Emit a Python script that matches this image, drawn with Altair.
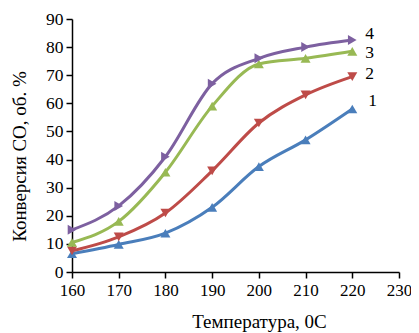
import altair as alt
import pandas as pd

temps = [160, 170, 180, 190, 200, 210, 220]
s1 = [6.5, 9.8, 13.8, 23.0, 37.5, 47.0, 58.0]
s2 = [7.5, 12.5, 21.0, 36.0, 53.0, 63.0, 69.5]
s3 = [10.5, 18.0, 35.5, 59.0, 74.0, 76.0, 78.5]
s4 = [15.0, 23.5, 41.0, 67.0, 76.0, 80.0, 82.5]
names = ["1", "2", "3", "4"]
colors = ["#4A7EBB", "#BE4B48", "#98B954", "#7D60A0"]
shapes = ["triangle-up", "triangle-down", "triangle-up", "triangle-right"]
label_dx = [16, 13, 13, 13]
label_dy = [-8, -3, 2, -6]
series = [s1, s2, s3, s4]

font = "Liberation Serif"
xscale = alt.Scale(domain=[160, 230], nice=False)
yscale = alt.Scale(domain=[0, 90], nice=False)

layers = []
for name, vals, col, shp, ldx, ldy in zip(names, series, colors, shapes, label_dx, label_dy):
    df = pd.DataFrame({"t": temps, "v": vals, "s": name})
    base = alt.Chart(df).encode(
        x=alt.X("t:Q", scale=xscale),
        y=alt.Y("v:Q", scale=yscale),
    )
    layers.append(base.mark_line(color=col, strokeWidth=3, interpolate="monotone"))
    layers.append(base.mark_point(shape=shp, filled=True, color=col, size=100, opacity=1))
    last = df.tail(1)
    layers.append(
        alt.Chart(last).mark_text(
            align="left", baseline="middle", dx=ldx, dy=ldy, font=font, fontSize=17.5, color="#000000"
        ).encode(x=alt.X("t:Q", scale=xscale), y=alt.Y("v:Q", scale=yscale), text="s:N")
    )

chart = alt.layer(*layers).encode(
    x=alt.X("t:Q", scale=xscale, axis=alt.Axis(
        title="Температура, 0С", values=[160, 170, 180, 190, 200, 210, 220, 230],
        grid=False, domainColor="#000000", tickColor="#000000", tickSize=6,
        labelFont=font, labelFontSize=17, labelColor="#000000", labelPadding=4,
        labelFlush=False, labelOverlap=False,
        titleFont=font, titleFontSize=19, titleFontWeight="normal", titleColor="#000000",
        titleX=187, titleY=55, titleBaseline="alphabetic",
    )),
    y=alt.Y("v:Q", scale=yscale, axis=alt.Axis(
        title="Конверсия СО, об. %", values=[0, 10, 20, 30, 40, 50, 60, 70, 80, 90],
        grid=False, domainColor="#000000", tickColor="#000000", tickSize=6,
        labelFont=font, labelFontSize=17.5, labelColor="#000000", labelPadding=3,
        labelFlush=False, labelOverlap=False,
        titleFont=font, titleFontSize=19, titleFontWeight="normal", titleColor="#000000",
        titleX=-47, titleY=137, titleBaseline="alphabetic",
    )),
).properties(
    width=327, height=253,
    autosize=alt.AutoSizeParams(type="none"),
    padding={"left": 64, "top": 11, "right": 12, "bottom": 61},
).configure_view(stroke=None).configure_axis(domainWidth=1.5, tickWidth=1.5)

chart.save("out.html", embed_options={"renderer": "svg", "actions": False})
